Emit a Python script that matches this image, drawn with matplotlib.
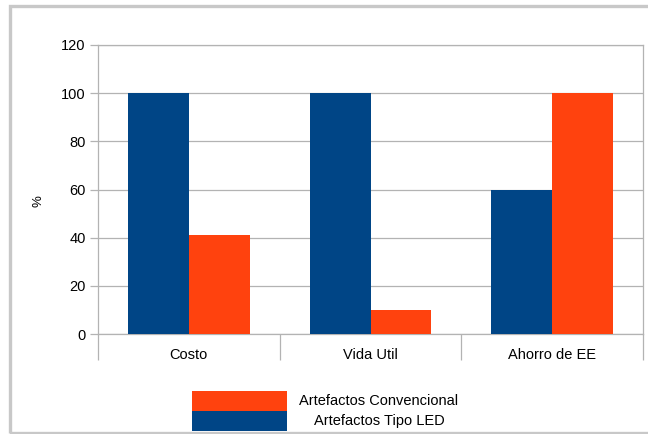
import numpy as np
import matplotlib.pyplot as plt
from matplotlib.patches import Rectangle

plt.rcParams.update({
    'font.family': ['Liberation Sans', 'DejaVu Sans'],
    'font.size': 10,
})

# ----- Data -----
categories = ['Costo', 'Vida Util', 'Ahorro de EE']
led = [100, 100, 60]
convencional = [41, 10, 100]
series_names = ['Artefactos Tipo LED', 'Artefactos Convencional']
series_colors = ['#004586', '#ff420e']
y_ticks = [0, 20, 40, 60, 80, 100, 120]

GRID = '#b3b3b3'
W, H = 648, 434

fig = plt.figure(figsize=(W / 100, H / 100), dpi=100)

# outer frame of the chart object
fig.patches.append(Rectangle((10 / W, 1.5 / H), 1.2, (428.5 - 1.5) / H,
                             transform=fig.transFigure, fill=False,
                             edgecolor='#c8c8c8', linewidth=2.4, clip_on=False))

ax = fig.add_axes([98 / W, 1 - 334 / H, 545 / W, 289 / H])

x = np.arange(len(categories))
bw = 0.335
ax.bar(x - bw / 2, led, bw, color=series_colors[0], zorder=3)
ax.bar(x + bw / 2, convencional, bw, color=series_colors[1], zorder=3)

ax.set_xlim(-0.5, len(categories) - 0.5)
ax.set_ylim(0, 120)
ax.set_yticks(y_ticks)
ax.yaxis.grid(True, color=GRID, linewidth=0.9, zorder=0)
ax.set_axisbelow(True)

for side in ['left', 'right', 'top', 'bottom']:
    ax.spines[side].set_color(GRID)
    ax.spines[side].set_linewidth(0.9)

ax.tick_params(axis='y', direction='out', length=6, color=GRID, width=0.9,
               pad=3, labelsize=10.5)
ax.set_xticks(x)
ax.set_xticklabels(categories)
ax.tick_params(axis='x', which='major', length=0, pad=10, labelsize=10.5)
# long separators between categories below the axis
ax.set_xticks(np.arange(-0.5, len(categories)), minor=True)
ax.tick_params(axis='x', which='minor', direction='out', length=19,
               color=GRID, width=0.9)

ax.set_ylabel('%', fontsize=9.5)
ax.yaxis.set_label_coords(-0.098, 0.46)

# legend drawn as stacked colour blocks with centred labels
for i, (name, col) in enumerate(zip(series_names[::-1], series_colors[::-1])):
    top = 391 + i * 20
    fig.patches.append(Rectangle((192 / W, 1 - (top + 20) / H), 95 / W, 20 / H,
                                 transform=fig.transFigure, facecolor=col,
                                 edgecolor='none'))
    fig.text(379 / W, 1 - (top + 10) / H, name, ha='center', va='center',
             fontsize=10.5)

fig.savefig('out.png', dpi=100)
